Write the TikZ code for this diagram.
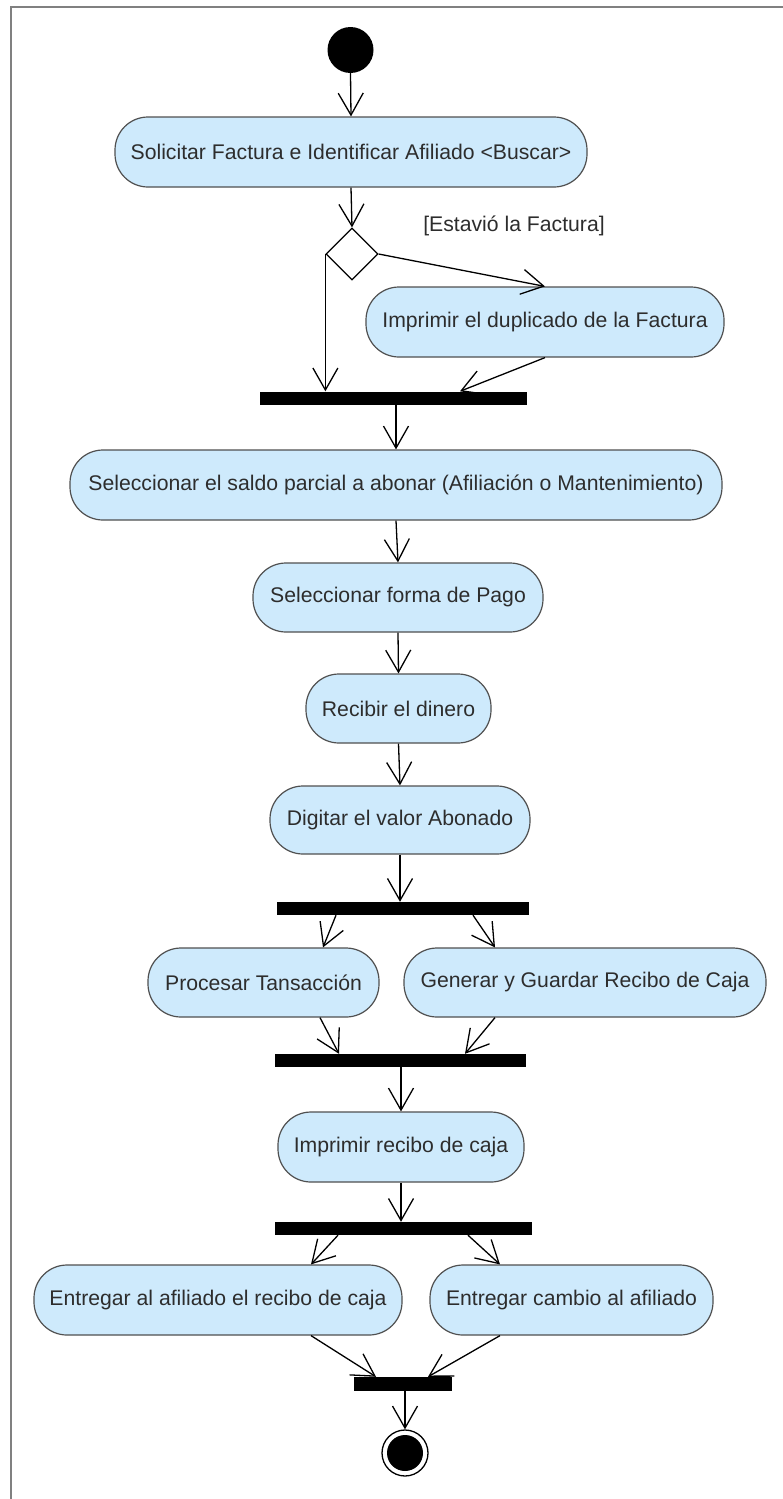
\documentclass[tikz,border=0pt]{standalone}
\usepackage{fontspec}
\setmainfont{Liberation Sans}
\usetikzlibrary{arrows.meta,shapes.geometric}

\definecolor{actfill}{RGB}{206,234,252}
\definecolor{actline}{RGB}{80,80,80}
\definecolor{acttext}{RGB}{45,45,45}
\definecolor{framegray}{RGB}{128,128,128}

\tikzset{
  activity/.style={draw=actline, line width=1.2pt, fill=actfill,
    rounded corners=33pt, minimum height=70pt, inner sep=0pt,
    text=acttext, font=\fontsize{21.2}{25}\selectfont},
  syncbar/.style={fill=black, draw=none, inner sep=0pt, minimum height=13pt},
  flow/.style={draw=black, line width=1.3pt,
    -{Straight Barb[length=22pt,width=25pt,line width=1.3pt]}},
  guard/.style={text=acttext, font=\fontsize{21.2}{25}\selectfont, inner sep=0pt},
}

\begin{document}
\begin{tikzpicture}[x=1pt, y=-1pt]
  \useasboundingbox (0,0) rectangle (783,1499);
  \fill[white] (0,0) rectangle (783,1499);

  % frame of the activity
  \draw[framegray, line width=2.8pt] (11,1510) -- (11,7) -- (795,7);

  % initial node
  \node[circle, fill=black, minimum size=46pt, inner sep=0pt] (start) at (350.5,50) {};

  % actions
  \node[activity, minimum width=472pt] (n1) at (351,152) {Solicitar Factura e Identificar Afiliado <Buscar>};
  \node[diamond, draw=black, line width=1.2pt, fill=white, minimum width=52pt, minimum height=52pt, inner sep=0pt] (dec) at (352,254) {};
  \node[guard] (lbl) at (514,226) {[Estavió la Factura]};
  \node[activity, minimum width=358pt] (n2) at (545,322) {Imprimir el duplicado de la Factura};
  \node[syncbar, minimum width=267pt] (bar1) at (393.5,398) {};
  \node[activity, minimum width=652pt] (n3) at (396,485) {Seleccionar el saldo parcial a abonar (Afiliación o Mantenimiento)};
  \node[activity, minimum width=290pt, minimum height=69pt] (n4) at (398,597.5) {Seleccionar forma de Pago};
  \node[activity, minimum width=185pt, minimum height=69pt] (n5) at (398.5,708.5) {Recibir el dinero};
  \node[activity, minimum width=260pt, minimum height=68pt] (n6) at (400,820) {Digitar el valor Abonado};
  \node[syncbar, minimum width=252pt] (bar2) at (403,908.5) {};
  \node[activity, minimum width=231pt, minimum height=69pt] (n7) at (263.5,982.5) {Procesar Tansacción};
  \node[activity, minimum width=362pt, minimum height=69pt] (n8) at (585,982.5) {Generar y Guardar Recibo de Caja};
  \node[syncbar, minimum width=251pt] (bar3) at (400.5,1060.5) {};
  \node[activity, minimum width=246pt] (n9) at (401,1147) {Imprimir recibo de caja};
  \node[syncbar, minimum width=257pt] (bar4) at (403.5,1228.5) {};
  \node[activity, minimum width=368pt] (n10) at (218,1300) {Entregar al afiliado el recibo de caja};
  \node[activity, minimum width=283pt] (n11) at (571.5,1300) {Entregar cambio al afiliado};
  \node[syncbar, minimum width=98pt, minimum height=14pt] (bar5) at (403,1384) {};

  % final node
  \node[circle, draw=black, line width=1.3pt, fill=white, minimum size=46pt, inner sep=0pt] (stop) at (405,1453) {};
  \node[circle, fill=black, minimum size=36pt, inner sep=0pt] (stopdot) at (stop.center) {};

  % control flows
  \draw[flow] (start.south) -- (n1.north);
  \draw[flow] (n1.south) -- (dec.north);
  \draw[flow] (dec.east) -- (n2.north);
  \draw[flow] (dec.west) -- (dec.west |- bar1.north);
  \draw[flow] (n2.south) -- ([xshift=66.5pt]bar1.north);
  \draw[flow] (bar1.south -| n3.north) -- (n3.north);
  \draw[flow] (n3.south) -- (n4.north);
  \draw[flow] (n4.south) -- (n5.north);
  \draw[flow] (n5.south) -- (n6.north);
  \draw[flow] (n6.south) -- (n6.south |- bar2.north);
  \draw[flow] ([xshift=-67pt]bar2.south) -- ([xshift=59.5pt]n7.north);
  \draw[flow] ([xshift=70pt]bar2.south) -- ([xshift=-90pt]n8.north);
  \draw[flow] ([xshift=56.5pt]n7.south) -- ([xshift=-61.5pt]bar3.north);
  \draw[flow] ([xshift=-90pt]n8.south) -- ([xshift=64.5pt]bar3.north);
  \draw[flow] (bar3.south -| n9.north) -- (n9.north);
  \draw[flow] (n9.south) -- (n9.south |- bar4.north);
  \draw[flow] ([xshift=-65.5pt]bar4.south) -- ([xshift=93pt]n10.north);
  \draw[flow] ([xshift=64.5pt]bar4.south) -- ([xshift=-71.5pt]n11.north);
  \draw[flow] ([xshift=93pt]n10.south) -- ([xshift=-27pt]bar5.north);
  \draw[flow] ([xshift=-71.5pt]n11.south) -- ([xshift=25pt]bar5.north);
  \draw[flow] (bar5.south -| stop.north) -- (stop.north);
\end{tikzpicture}
\end{document}
